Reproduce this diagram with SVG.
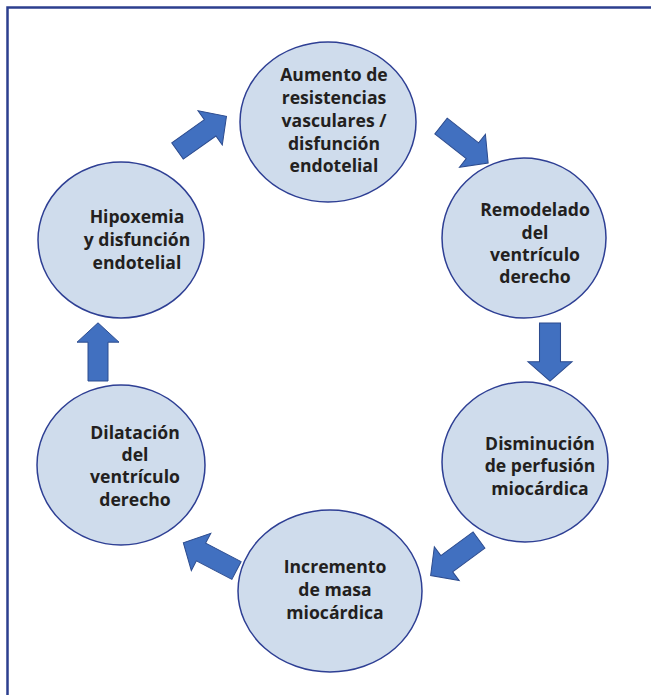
<svg xmlns="http://www.w3.org/2000/svg" xmlns:xlink="http://www.w3.org/1999/xlink" width="651" height="695" viewBox="0 0 651 695">
<defs>
<style>
.node ellipse{fill:#cfdcec;stroke:#2e3f94;stroke-width:1.5}
.node text{font-family:"Open Sans","Liberation Sans",sans-serif;font-weight:bold;font-size:17.6px;fill:#231f20;text-anchor:middle}
.arrow{fill:#4170c0;stroke:#2c4b8e;stroke-width:1}
.frame{fill:none;stroke:#2c3f8f;stroke-width:2.5}
</style>
<polygon id="arr" points="0,-10 40,-10 40,-21 60,0 40,21 40,10 0,10"/>
</defs>
<rect width="651" height="695" fill="#ffffff"/>
<path class="frame" d="M7.5,695 V7.5 H651"/>
<g id="connectors">
<use xlink:href="#arr" class="arrow" transform="translate(177.5,151) rotate(-35.3)"/>
<use xlink:href="#arr" class="arrow" transform="translate(441,126) rotate(38.2)"/>
<use xlink:href="#arr" class="arrow" transform="translate(550,323) rotate(90) scale(0.97,1.05)"/>
<use xlink:href="#arr" class="arrow" transform="translate(479,540) rotate(143.7)"/>
<use xlink:href="#arr" class="arrow" transform="translate(236.5,570.5) rotate(207.6)"/>
<use xlink:href="#arr" class="arrow" transform="translate(98,381) rotate(-90) scale(0.97,1)"/>
</g>
<g id="n1" class="node">
<ellipse cx="328" cy="122" rx="88" ry="80"/>
<text><tspan x="334" y="81">Aumento de</tspan><tspan x="334" y="104">resistencias</tspan><tspan x="334" y="127">vasculares /</tspan><tspan x="334" y="150">disfunción</tspan><tspan x="334" y="172">endotelial</tspan></text>
</g>
<g id="n2" class="node">
<ellipse cx="524" cy="238" rx="82" ry="80"/>
<text><tspan x="535" y="216">Remodelado</tspan><tspan x="535" y="239">del</tspan><tspan x="535" y="261">ventrículo</tspan><tspan x="535" y="283">derecho</tspan></text>
</g>
<g id="n3" class="node">
<ellipse cx="525" cy="462" rx="83" ry="80"/>
<text><tspan x="540" y="450">Disminución</tspan><tspan x="540" y="472">de perfusión</tspan><tspan x="540" y="495">miocárdica</tspan></text>
</g>
<g id="n4" class="node">
<ellipse cx="330" cy="591" rx="92" ry="81"/>
<text><tspan x="335" y="573">Incremento</tspan><tspan x="335" y="596">de masa</tspan><tspan x="335" y="619">miocárdica</tspan></text>
</g>
<g id="n5" class="node">
<ellipse cx="121" cy="465" rx="84" ry="80"/>
<text><tspan x="135" y="439">Dilatación</tspan><tspan x="135" y="461">del</tspan><tspan x="135" y="483">ventrículo</tspan><tspan x="135" y="506">derecho</tspan></text>
</g>
<g id="n6" class="node">
<ellipse cx="121" cy="240" rx="83" ry="78"/>
<text><tspan x="137" y="223">Hipoxemia</tspan><tspan x="137" y="246">y disfunción</tspan><tspan x="137" y="269">endotelial</tspan></text>
</g>
</svg>
